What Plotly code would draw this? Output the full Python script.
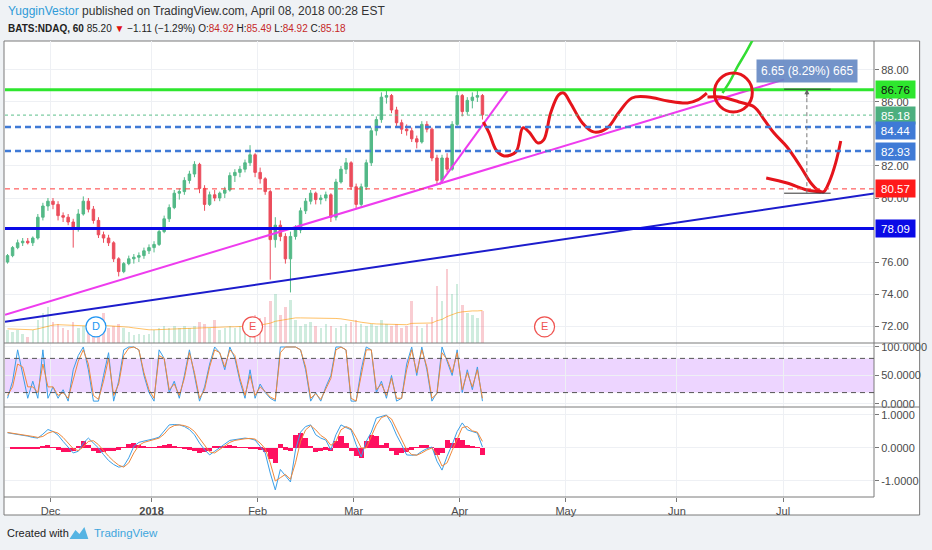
import pandas as pd
import plotly.graph_objects as go

# --- data --------------------------------------------------------------------
HOLIDAYS = ["2017-11-23", "2017-12-25", "2018-01-01", "2018-01-15", "2018-02-19",
            "2018-03-30", "2018-05-28", "2018-07-04"]
DAYS = pd.bdate_range("2017-11-17", "2018-04-06", freq="C", holidays=HOLIDAYS) + pd.Timedelta(hours=12)

OPEN = [76.0, 76.4, 76.9, 77.2, 77.3, 77.2, 77.5, 78.8, 79.5,
        79.8, 79.6, 78.9, 78.8, 78.5, 78.1, 79.0, 79.8, 79.3, 78.6, 77.7, 77.5, 77.2, 76.2, 75.4, 75.9, 76.2, 76.3, 76.4, 76.7,
        76.9, 77.1, 77.9, 78.7, 79.4, 80.3, 80.4, 81.1, 81.5, 82.1, 80.6, 79.6, 80.2, 80.0, 80.3, 80.5, 81.4, 81.6, 81.8, 82.2, 82.7,
        81.6, 81.2, 80.4, 77.4, 78.3, 77.6, 76.2, 77.6, 78.0, 79.2, 79.8, 80.3, 79.9, 80.0, 80.2, 78.8, 81.0, 81.8, 82.2,
        80.7, 79.6, 80.7, 82.2, 84.2, 84.9, 86.3, 86.4, 85.5, 84.7, 84.3, 84.2, 83.7, 83.5, 84.6, 84.3, 82.5, 81.1, 82.5, 81.8, 84.6,
        86.4, 85.4, 86.1, 86.3, 86.4]
HIGH = [76.5, 77.0, 77.4, 77.5, 77.5, 77.6, 79.0, 79.7, 80.0,
        80.0, 79.8, 79.1, 79.0, 78.7, 79.3, 80.1, 80.0, 79.5, 78.8, 77.9, 77.7, 77.3, 76.3, 76.0, 76.4, 76.5, 76.6, 76.9, 77.1,
        77.3, 78.1, 78.9, 79.6, 80.5, 80.6, 81.3, 81.7, 82.3, 82.2, 80.8, 80.4, 80.5, 80.4, 80.7, 81.6, 81.8, 82.0, 82.4, 83.3, 82.8,
        81.9, 81.3, 80.5, 78.8, 78.6, 77.8, 77.9, 78.3, 79.4, 80.0, 80.5, 80.4, 80.2, 80.4, 80.3, 81.2, 82.0, 82.5, 82.3,
        80.9, 80.9, 82.4, 84.4, 85.1, 86.6, 86.7, 86.5, 85.7, 84.9, 84.6, 84.4, 83.9, 84.8, 84.8, 84.4, 82.7, 82.7, 82.8, 84.8, 86.7,
        86.5, 86.3, 86.6, 86.76, 86.5]
LOW = [75.9, 76.3, 76.8, 77.0, 77.1, 77.0, 77.4, 78.6, 79.2,
       79.3, 78.6, 78.5, 78.3, 76.9, 77.9, 78.9, 79.1, 78.4, 77.5, 77.2, 77.0, 76.0, 75.1, 75.3, 75.8, 75.9, 76.0, 76.2, 76.5,
       76.6, 77.0, 77.8, 78.5, 79.3, 79.9, 80.2, 80.9, 81.3, 80.3, 79.2, 79.5, 79.8, 79.8, 80.0, 80.4, 81.0, 81.3, 81.6, 82.0, 81.3,
       80.9, 80.2, 74.9, 76.9, 77.3, 75.9, 74.1, 77.4, 77.8, 79.0, 79.6, 79.6, 79.6, 79.8, 78.5, 78.6, 80.9, 81.5, 80.5,
       79.3, 79.4, 80.5, 82.0, 83.9, 84.7, 85.9, 85.3, 84.5, 84.0, 83.9, 83.5, 83.1, 83.4, 84.1, 82.3, 80.8, 80.9, 81.6, 81.7, 84.5,
       85.1, 85.2, 85.6, 86.0, 84.9]
CLOSE = [76.4, 76.9, 77.2, 77.3, 77.2, 77.5, 78.8, 79.5, 79.8,
         79.6, 78.9, 78.8, 78.5, 78.1, 79.0, 79.8, 79.3, 78.6, 77.7, 77.5, 77.2, 76.2, 75.4, 75.9, 76.2, 76.3, 76.4, 76.7, 76.9,
         77.1, 77.9, 78.7, 79.4, 80.3, 80.4, 81.1, 81.5, 82.1, 80.6, 79.6, 80.2, 80.0, 80.3, 80.5, 81.4, 81.6, 81.8, 82.2, 82.7, 81.6,
         81.2, 80.4, 77.4, 78.3, 77.6, 76.2, 77.6, 78.0, 79.2, 79.8, 80.3, 79.9, 80.0, 80.2, 78.8, 81.0, 81.8, 82.2, 80.7,
         79.6, 80.7, 82.2, 84.2, 84.9, 86.3, 86.4, 85.5, 84.7, 84.3, 84.2, 83.7, 83.5, 84.6, 84.3, 82.5, 81.1, 82.5, 81.8, 84.6, 86.4,
         85.4, 86.1, 86.3, 86.4, 85.2]
VOLUME = [0.7, 0.6, 0.7, 0.5, 0.3, 0.7, 1.2, 1.6, 1.9,
          1.1, 1.0, 0.8, 0.7, 1.1, 0.8, 0.9, 0.7, 0.8, 0.9, 1.6, 0.8, 0.9, 1.0, 0.8, 0.6, 0.4, 0.5, 0.4, 0.5,
          0.7, 0.8, 0.9, 0.8, 0.9, 0.8, 0.9, 0.8, 0.9, 1.1, 1.0, 0.8, 1.2, 0.7, 0.8, 0.9, 0.8, 0.9, 0.8, 1.0, 1.5,
          1.3, 1.4, 2.2, 2.6, 1.5, 1.9, 2.3, 1.2, 0.9, 1.0, 1.1, 0.9, 0.8, 1.0, 0.9, 0.8, 0.9, 1.0, 1.1,
          1.2, 1.0, 0.9, 1.0, 0.9, 1.2, 1.0, 0.9, 1.0, 0.8, 0.9, 2.2, 0.9, 0.8, 1.0, 1.4, 3.0, 2.2, 3.9, 2.6, 3.1,
          2.0, 1.6, 1.5, 1.3, 1.7]
VOLUME_MA = [0.75, 0.74, 0.73, 0.72, 0.70, 0.70, 0.75, 0.82, 0.92,
             0.95, 0.97, 0.96, 0.94, 0.95, 0.93, 0.92, 0.90, 0.89, 0.88, 0.93, 0.92, 0.90, 0.89, 0.87, 0.84, 0.80, 0.76, 0.72, 0.70,
             0.70, 0.71, 0.72, 0.73, 0.75, 0.76, 0.78, 0.79, 0.80, 0.82, 0.83, 0.84, 0.86, 0.86, 0.86, 0.86, 0.86, 0.87, 0.87, 0.88, 0.92,
             0.95, 0.98, 1.05, 1.15, 1.20, 1.25, 1.32, 1.33, 1.33, 1.33, 1.33, 1.33, 1.32, 1.32, 1.31, 1.30, 1.28, 1.25, 1.20,
             1.15, 1.10, 1.05, 1.03, 1.01, 1.00, 1.00, 0.99, 0.98, 0.97, 0.97, 1.04, 1.04, 1.03, 1.04, 1.06, 1.18, 1.25, 1.40, 1.50, 1.60,
             1.65, 1.68, 1.70, 1.70, 1.72]
STOCH_K = [10, 40, 95, 50, 10, 40, 10, 95, 10,
           30, 10, 25, 5, 60, 85, 100, 60, 5, 5, 50, 90, 5, 40, 95, 100, 100, 95, 50, 20,
           5, 95, 80, 20, 40, 10, 50, 95, 50, 5, 30, 70, 100, 90, 60, 100, 80, 40, 10, 60, 10,
           35, 20, 10, 5, 100, 100, 100, 100, 95, 60, 5, 20, 5, 30, 50, 100, 100, 95, 5,
           5, 60, 100, 95, 20, 40, 10, 50, 5, 10, 70, 100, 50, 100, 60, 5, 20, 100, 75, 50, 95,
           20, 60, 25, 65, 5]
STOCH_D = [15, 30, 70, 65, 30, 30, 20, 70, 30,
           30, 15, 20, 10, 45, 75, 95, 70, 15, 8, 40, 80, 15, 35, 85, 98, 100, 95, 55, 25,
           10, 85, 80, 25, 35, 15, 45, 90, 55, 10, 25, 65, 95, 90, 65, 95, 85, 45, 15, 50, 15,
           30, 22, 12, 8, 90, 100, 100, 100, 95, 65, 10, 18, 8, 28, 45, 95, 100, 95, 10,
           5, 50, 95, 95, 25, 35, 15, 45, 10, 10, 60, 95, 55, 95, 65, 10, 18, 90, 78, 55, 90,
           25, 55, 30, 60, 10]
MACD = [0.46, 0.44, 0.41, 0.39, 0.36, 0.32, 0.30, 0.42, 0.56,
        0.50, 0.39, 0.20, 0.03, -0.15, -0.10, 0.15, 0.30, 0.15, 0.00, -0.20, -0.38, -0.50, -0.58, -0.55, -0.30, 0.05, 0.17, 0.21, 0.24,
        0.28, 0.33, 0.52, 0.70, 0.71, 0.70, 0.65, 0.56, 0.40, 0.15, -0.05, -0.21, -0.10, 0.02, 0.12, 0.23, 0.26, 0.28, 0.30, 0.28, 0.24,
        0.05, -0.15, -0.76, -1.27, -0.65, -0.85, -1.03, -0.06, 0.48, 0.65, 0.70, 0.40, 0.30, 0.24, -0.06, 0.40, 0.70, 0.62, 0.55,
        0.10, -0.27, 0.20, 0.48, 0.91, 0.95, 1.00, 0.75, 0.39, 0.10, -0.21, -0.22, -0.21, -0.10, -0.02, 0.03, -0.40, -0.67, -0.25, 0.10, 0.50,
        0.76, 0.55, 0.50, 0.45, 0.03]
SIGNAL = [0.47, 0.45, 0.43, 0.40, 0.38, 0.35, 0.32, 0.35, 0.45,
          0.50, 0.45, 0.32, 0.15, -0.02, -0.08, 0.03, 0.20, 0.22, 0.10, -0.08, -0.25, -0.40, -0.52, -0.58, -0.45, -0.15, 0.08, 0.17, 0.22,
          0.25, 0.30, 0.42, 0.60, 0.68, 0.70, 0.68, 0.62, 0.50, 0.30, 0.08, -0.12, -0.15, -0.05, 0.06, 0.17, 0.23, 0.26, 0.28, 0.29, 0.27,
          0.15, -0.02, -0.45, -1.00, -0.90, -0.80, -0.95, -0.45, 0.20, 0.55, 0.68, 0.55, 0.38, 0.28, 0.08, 0.20, 0.55, 0.65, 0.58,
          0.32, 0.00, 0.00, 0.35, 0.70, 0.92, 0.98, 0.88, 0.58, 0.25, -0.05, -0.20, -0.22, -0.15, -0.06, 0.00, -0.20, -0.55, -0.45, -0.08, 0.30,
          0.62, 0.65, 0.52, 0.48, 0.20]
HIST = [0.00, -0.01, -0.02, -0.01, -0.02, -0.03, -0.02, 0.07, 0.10,
        0.02, -0.06, -0.12, -0.12, -0.10, 0.05, 0.20, 0.10, -0.08, -0.15, -0.12, -0.10, -0.08, -0.05, 0.03, 0.12, 0.15, 0.10, 0.05, 0.03,
        0.03, 0.05, 0.10, 0.12, 0.05, 0.02, -0.02, -0.05, -0.10, -0.15, -0.13, -0.10, 0.05, 0.07, 0.06, 0.08, 0.04, 0.02, 0.02, -0.02, -0.04,
        -0.06, -0.12, -0.32, -0.45, 0.12, -0.05, -0.10, 0.40, 0.45, 0.30, 0.05, -0.12, -0.10, -0.05, -0.10, 0.20, 0.35, 0.15, -0.08,
        -0.25, -0.30, 0.20, 0.40, 0.35, 0.10, 0.15, -0.10, -0.20, -0.15, -0.12, -0.05, 0.02, 0.08, 0.10, 0.03, -0.20, -0.15, 0.25, 0.15, 0.30,
        0.25, 0.08, 0.05, 0.03, -0.20]

# horizontal levels drawn on the chart and their axis labels
LEVELS = [86.76, 85.18, 84.44, 82.93, 80.57, 78.09]
PRICE_TICKS = [72, 74, 76, 80, 82, 86, 88]

# hand drawn lines (date, price)
MAGENTA_LONG_X = ["2017-11-17 00:00", "2018-07-02 05:00"]
MAGENTA_LONG_Y = [72.7, 87.4]
MAGENTA_STEEP_X = ["2018-03-26 00:00", "2018-04-13 14:00"]
MAGENTA_STEEP_Y = [80.85, 86.76]
BLUE_TREND_X = ["2017-11-17 00:00", "2018-07-27 00:00"]
BLUE_TREND_Y = [72.27, 80.28]
RED_PATH_X = ["2018-04-06 16:00", "2018-04-09 20:00", "2018-04-11 05:00", "2018-04-12 19:00", "2018-04-17 03:00",
              "2018-04-18 12:00", "2018-04-19 17:00", "2018-04-23 12:00", "2018-04-24 15:00", "2018-04-26 00:00",
              "2018-04-27 14:00", "2018-04-30 14:00", "2018-05-01 22:00", "2018-05-04 07:00", "2018-05-08 12:00",
              "2018-05-11 05:00", "2018-05-15 10:00", "2018-05-18 02:00", "2018-05-23 07:00", "2018-05-30 05:00",
              "2018-06-05 02:00", "2018-06-07 02:00", "2018-06-08 22:00"]
RED_PATH_Y = [84.75, 84.06, 83.0, 82.63, 82.88, 84.38, 84.13, 83.44, 83.63, 85.31, 86.44, 86.56, 85.94, 84.69,
              84.13, 84.38, 85.31, 86.25, 86.31, 86.06, 85.94, 86.13, 86.56]
RED_DROP_X = ["2018-06-11 01:00", "2018-06-13 19:00", "2018-06-19 07:00", "2018-06-22 07:00", "2018-06-26 07:00",
              "2018-06-28 05:00", "2018-07-02 19:00", "2018-07-06 12:00", "2018-07-10 12:00", "2018-07-11 22:00",
              "2018-07-13 00:00", "2018-07-16 05:00", "2018-07-17 10:00", "2018-07-18 10:00"]
RED_DROP_Y = [86.31, 86.31, 86.0, 85.69, 84.88, 84.06, 83.19, 81.94, 80.94, 80.5, 80.38, 81.06, 82.19, 83.56]
RED_TAIL_X = ["2018-06-26 16:00", "2018-07-02 19:00", "2018-07-09 17:00", "2018-07-12 12:00"]
RED_TAIL_Y = [81.25, 80.94, 80.5, 80.38]
GREEN_PATH_X = ["2018-06-14 00:00", "2018-06-15 10:00", "2018-06-18 23:00", "2018-06-20 17:00", "2018-06-22 12:00"]
GREEN_PATH_Y = [86.56, 87.25, 88.19, 89.13, 90.19]
CIRCLE_X = ["2018-06-12 10:00", "2018-06-21 22:00"]
CIRCLE_Y = [85.38, 87.81]
MEASURE_X = ["2018-07-02 05:00", "2018-07-09 17:00", "2018-07-16 10:00"]
MEASURE_Y = [80.3, 86.8]
MEASURE_TEXT = "6.65 (8.29%) 665"

EVENT_X = ["2017-12-14 00:00", "2018-01-31 00:00", "2018-04-24 19:00"]
EVENT_TEXT = ["D", "E", "E"]

TICK_DATES = ["2017-12-01", "2018-01-02", "2018-02-01", "2018-03-01", "2018-04-02",
              "2018-05-01", "2018-06-01", "2018-07-02"]
TICK_TEXT = ["Dec", "<b>2018</b>", "Feb", "Mar", "Apr", "May", "Jun", "Jul"]

# --- layout helpers (pixels of the 932x550 page -> paper coords) ------------
W, H = 932, 550
L, R, T, B = 5, 881, 41, 497


def px(x):
    return (x - L) / (R - L)


def py(y):
    return (B - y) / (B - T)


FONT = "Liberation Sans"
UP, DOWN = "#53b987", "#eb4d5c"
BG = "#eff2f5"

fig = go.Figure()

vol_colors = ["rgba(83,185,135,0.28)" if c >= o else "rgba(235,77,92,0.28)" for o, c in zip(OPEN, CLOSE)]
fig.add_trace(go.Bar(x=DAYS, y=VOLUME, marker_color=vol_colors, marker_line_width=0,
                     width=0.5 * 86400000, yaxis="y", xaxis="x"))
fig.add_trace(go.Scatter(x=DAYS, y=VOLUME_MA, mode="lines", line=dict(color="rgba(255,152,0,0.6)", width=1),
                         yaxis="y", xaxis="x"))

fig.add_trace(go.Candlestick(x=DAYS, open=OPEN, high=HIGH, low=LOW, close=CLOSE, yaxis="y2", xaxis="x",
                             whiskerwidth=0,
                             increasing=dict(line=dict(color=UP, width=1), fillcolor=UP),
                             decreasing=dict(line=dict(color=DOWN, width=1), fillcolor=DOWN)))

line_specs = [
    (BLUE_TREND_X, BLUE_TREND_Y, "#1c1ccc", 2, "linear"),
    (MAGENTA_LONG_X, MAGENTA_LONG_Y, "#ee3cee", 2, "linear"),
    (MAGENTA_STEEP_X, MAGENTA_STEEP_Y, "#ee3cee", 2, "linear"),
    (RED_PATH_X, RED_PATH_Y, "#e5141b", 3, "spline"),
    (RED_DROP_X, RED_DROP_Y, "#e5141b", 3, "spline"),
    (RED_TAIL_X, RED_TAIL_Y, "#e5141b", 3, "spline"),
    (GREEN_PATH_X, GREEN_PATH_Y, "#33dd33", 2.5, "spline"),
]
for xs, ys, col, wd, shp in line_specs:
    fig.add_trace(go.Scatter(x=xs, y=ys, mode="lines", line=dict(color=col, width=wd, shape=shp),
                             yaxis="y2", xaxis="x"))

ev_colors = ["#2196f3", "#ef5350", "#ef5350"]
fig.add_trace(go.Scatter(x=EVENT_X, y=[71.95] * len(EVENT_X), mode="markers+text", text=EVENT_TEXT,
                         textposition="middle center", textfont=dict(color=ev_colors, size=11, family=FONT),
                         marker=dict(size=20, color="white", line=dict(color=ev_colors, width=1.2)),
                         yaxis="y2", xaxis="x"))

# stochastic RSI
fig.add_trace(go.Scatter(x=DAYS, y=STOCH_K, mode="lines", line=dict(color="#3a9fe8", width=1), yaxis="y3", xaxis="x"))
fig.add_trace(go.Scatter(x=DAYS, y=STOCH_D, mode="lines", line=dict(color="#f0883a", width=1), yaxis="y3", xaxis="x"))

# MACD
fig.add_trace(go.Bar(x=DAYS, y=HIST, marker_color="#ff1060", marker_line_width=0, width=86400000,
                     yaxis="y4", xaxis="x"))
fig.add_trace(go.Scatter(x=DAYS, y=MACD, mode="lines", line=dict(color="#3a9fe8", width=1), yaxis="y4", xaxis="x"))
fig.add_trace(go.Scatter(x=DAYS, y=SIGNAL, mode="lines", line=dict(color="#f0883a", width=1), yaxis="y4", xaxis="x"))

# --- shapes ---
shapes = []
# chart frame
shapes.append(dict(type="rect", xref="paper", yref="paper", x0=px(4), x1=px(927), y0=py(515), y1=py(41),
                   fillcolor="white", line=dict(color="#7a7a7a", width=1), layer="below"))
for yy in (343, 407):
    shapes.append(dict(type="line", xref="paper", yref="paper", x0=px(4), x1=px(927), y0=py(yy), y1=py(yy),
                       line=dict(color="#7a7a7a", width=1)))
shapes.append(dict(type="line", xref="paper", yref="paper", x0=px(4), x1=1, y0=0, y1=0,
                   line=dict(color="#7a7a7a", width=1)))
shapes.append(dict(type="line", xref="paper", yref="paper", x0=1, x1=1, y0=0, y1=1,
                   line=dict(color="#7a7a7a", width=1)))

level_styles = [
    dict(color="#2ee62e", width=3),
    dict(color="#5cbf8a", width=1, dash="dot"),
    dict(color="#3f7ad6", width=2.5, dash="6px,4px"),
    dict(color="#3f7ad6", width=2.5, dash="6px,4px"),
    dict(color="#ff3b3b", width=1, dash="5px,4px"),
    dict(color="#0a0ae6", width=3),
]
for lv, st in zip(LEVELS, level_styles):
    shapes.append(dict(type="line", xref="paper", yref="y2", x0=0, x1=1, y0=lv, y1=lv, line=st))

# stoch band
shapes.append(dict(type="rect", xref="paper", yref="y3", x0=0, x1=1, y0=20, y1=80,
                   fillcolor="rgba(153,21,255,0.18)", line=dict(width=0), layer="below"))
for lv in (20, 80):
    shapes.append(dict(type="line", xref="paper", yref="y3", x0=0, x1=1, y0=lv, y1=lv,
                       line=dict(color="#555555", width=1, dash="5px,4px")))

# red circle and measurement tool
shapes.append(dict(type="circle", xref="x", yref="y2", x0=CIRCLE_X[0], x1=CIRCLE_X[1], y0=CIRCLE_Y[0], y1=CIRCLE_Y[1],
                   line=dict(color="#e5141b", width=3)))
for lv in MEASURE_Y:
    shapes.append(dict(type="line", xref="x", yref="y2", x0=MEASURE_X[0], x1=MEASURE_X[2], y0=lv, y1=lv,
                       line=dict(color="#333333", width=1)))
shapes.append(dict(type="line", xref="x", yref="y2", x0=MEASURE_X[1], x1=MEASURE_X[1], y0=MEASURE_Y[0], y1=MEASURE_Y[1],
                   line=dict(color="#777777", width=1, dash="4px,3px")))

# TradingView logo
lx = [70, 76, 80, 85, 89]
ly = [539, 530, 534, 527, 539]
path = "M " + " L ".join(f"{px(a)},{py(b)}" for a, b in zip(lx, ly)) + " Z"
shapes.append(dict(type="path", xref="paper", yref="paper", path=path, fillcolor="#55b4e3", line=dict(width=0)))

# --- annotations ---
ann = []
ann.append(dict(xref="paper", yref="paper", x=px(6), y=py(11), xanchor="left", yanchor="middle", showarrow=False,
                text='<span style="color:#2e9bd8">YugginVestor</span> published on TradingView.com, April 08, 2018 00:28 EST',
                font=dict(family=FONT, size=12, color="#333333")))
red = "#c62828"
ann.append(dict(xref="paper", yref="paper", x=px(6), y=py(29), xanchor="left", yanchor="middle", showarrow=False,
                text=(f'<b>BATS:NDAQ, 60</b> 85.20 <span style="color:#e01010">▼</span> −1.11 (−1.29%) '
                      f'O:<span style="color:{red}">84.92</span> H:<span style="color:{red}">85.49</span> '
                      f'L:<span style="color:{red}">84.92</span> C:<span style="color:{red}">85.18</span>'),
                font=dict(family=FONT, size=10, color="#222222")))
ann.append(dict(xref="paper", yref="paper", x=px(5), y=py(533), xanchor="left", yanchor="middle", showarrow=False,
                text="Created with", font=dict(family=FONT, size=11, color="#222222")))
ann.append(dict(xref="paper", yref="paper", x=px(93), y=py(533), xanchor="left", yanchor="middle", showarrow=False,
                text="TradingView", font=dict(family=FONT, size=11.5, color="#3ea6dd")))

label_styles = [("#2ee62e", "#111111", 0), ("#4caf7f", "white", 0), ("#3f7ad6", "white", -4),
                ("#3f7ad6", "white", 0), ("#ff1a1a", "white", 0), ("#0a0ae6", "white", 0)]
for lv, (bg, fc, sh) in zip(LEVELS, label_styles):
    ann.append(dict(xref="paper", yref="y2", x=px(882), y=lv, xanchor="left", yanchor="middle", showarrow=False,
                    text=f"{lv:.2f}", bgcolor=bg, width=37, height=15, align="center",
                    font=dict(family=FONT, size=11.5, color=fc), borderpad=1, yshift=sh))

ann.append(dict(xref="x", yref="y2", x=MEASURE_X[1], y=87.94, showarrow=False, text=MEASURE_TEXT,
                bgcolor="rgba(100,135,195,0.9)", borderpad=4, font=dict(family=FONT, size=12, color="white")))
ann.append(dict(xref="x", yref="y2", x=MEASURE_X[1], y=MEASURE_Y[1], axref="x", ayref="y2",
                ax=MEASURE_X[1], ay=86.2, showarrow=True, arrowhead=2, arrowsize=1, arrowwidth=1,
                arrowcolor="#666666", text=""))

axis_font = dict(family=FONT, size=11, color="#4a4a4a")
grid = "#eef0f4"
PRICE_DOM = [py(343), 1]
STOCH_DOM = [py(407), py(343)]
MACD_DOM = [0, py(407)]

fig.update_layout(
    width=W, height=H, margin=dict(l=L, r=W - R, t=T, b=H - B),
    paper_bgcolor=BG, plot_bgcolor="white", showlegend=False, hovermode=False,
    shapes=shapes, annotations=ann, bargap=0,
    xaxis=dict(type="date", domain=[0, 1], anchor="y4",
               range=["2017-11-17 00:00", "2018-07-27 00:00"],
               rangebreaks=[dict(bounds=["sat", "mon"]), dict(values=HOLIDAYS)],
               tickvals=TICK_DATES, ticktext=TICK_TEXT, ticks="outside", ticklen=4, tickcolor="#777777",
               tickfont=axis_font, showgrid=True, gridcolor=grid, zeroline=False, showline=False,
               rangeslider=dict(visible=False)),
    yaxis=dict(domain=PRICE_DOM, anchor="x", range=[0, 16], visible=False, showgrid=False, fixedrange=True),
    yaxis2=dict(overlaying="y", anchor="x", side="right", range=[70.94, 89.81], tickvals=PRICE_TICKS,
                tickformat=".2f", ticks="outside", ticklen=4, tickcolor="#777777", tickfont=axis_font,
                showgrid=True, gridcolor=grid, zeroline=False),
    yaxis3=dict(domain=STOCH_DOM, anchor="x", side="right", range=[-5.3, 107], tickvals=[0, 50, 100],
                ticktext=["0.0000", "50.0000", "100.0000"], ticks="outside", ticklen=4, tickcolor="#777777",
                tickfont=axis_font, showgrid=True, gridcolor=grid, zeroline=False),
    yaxis4=dict(domain=MACD_DOM, anchor="x", side="right", range=[-1.485, 1.242], tickvals=[-1, 0, 1],
                ticktext=["-1.0000", "0.0000", "1.0000"], ticks="outside", ticklen=4, tickcolor="#777777",
                tickfont=axis_font, showgrid=True, gridcolor=grid, zeroline=False),
)

# page has an 8px default body margin; remove it so the chart sits at the window origin
fig.write_html("out.html", config={"displayModeBar": False},
               post_script=f"document.body.style.margin='0';document.body.style.background='{BG}';")
